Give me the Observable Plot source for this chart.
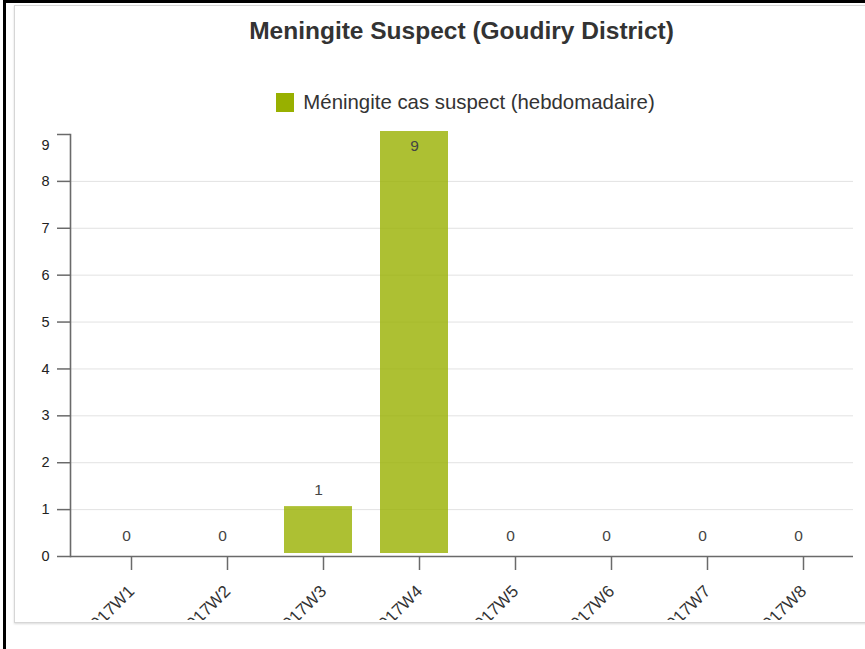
<!DOCTYPE html>
<html>
<head>
<meta charset="utf-8">
<script src="https://cdn.jsdelivr.net/npm/d3@7"></script>
<script src="https://cdn.jsdelivr.net/npm/@observablehq/plot@0.6"></script>
<style>
  html, body { margin: 0; padding: 0; background: #fff; width: 865px; height: 649px; overflow: hidden; font-family: "Liberation Sans", Arial, sans-serif; }
  #blackLeft { position: absolute; left: 3px; top: 0; width: 3px; height: 649px; background: #000; }
  #blackTop { position: absolute; left: 3px; top: 0; width: 862px; height: 3px; background: #000; }
  #panel { position: absolute; left: 14px; top: 5px; width: 870px; height: 616px; border: 1px solid #d6d6d6; box-shadow: 0 1px 2px rgba(0,0,0,0.15); background: #fff; }
  #title { position: absolute; left: 29px; top: 17px; width: 865px; text-align: center; font-size: 24.5px; font-weight: bold; color: #333; }
  #legend { position: absolute; left: 33px; top: 91px; width: 865px; display: flex; justify-content: center; align-items: center; font-size: 20.4px; color: #333; }
  #legend .sw { width: 18px; height: 19px; background: #98b000; margin-right: 9px; }
  #chart { position: absolute; left: 0; top: 120px; width: 865px; height: 501px; overflow: hidden; }
</style>
</head>
<body>
<div id="blackLeft"></div>
<div id="blackTop"></div>
<div id="panel"></div>
<div id="title">Meningite Suspect (Goudiry District)</div>
<div id="legend"><span class="sw"></span><span id="legText">Méningite cas suspect (hebdomadaire)</span></div>
<div id="chart"></div>
<script>
const weeks = ["2017W1", "2017W2", "2017W3", "2017W4", "2017W5", "2017W6", "2017W7", "2017W8"];
const cases = [0, 0, 1, 9, 0, 0, 0, 0];
const yTicks = [0, 1, 2, 3, 4, 5, 6, 7, 8, 9];
const seriesName = "Méningite cas suspect (hebdomadaire)";

const data = weeks.map((w, i) => ({week: w, cases: cases[i]}));
const maxV = d3.max(cases);
const yMax = d3.max(yTicks);

const plot = Plot.plot({
  width: 865,
  height: 500,
  marginLeft: 70,
  marginRight: 12,
  marginTop: 14,
  marginBottom: 64,
  style: {fontFamily: "Liberation Sans, Arial, sans-serif", fontSize: "14px", color: "#222", background: "transparent"},
  x: {domain: weeks, insetLeft: 8.5, insetRight: 6.5, paddingInner: 0.29, paddingOuter: 0.145, label: null},
  y: {domain: [0, yMax], label: null},
  marks: [
    Plot.ruleY(yTicks.filter(t => t > 0 && t < yMax), {stroke: "#e2e2e2", strokeWidth: 1}),
    Plot.barY(data, {x: "week", y: "cases", fill: "#98b000", fillOpacity: 0.8, dy: -3}),
    Plot.text(data.filter(d => d.cases < maxV), {x: "week", y: "cases", text: d => String(d.cases), dy: -20, fill: "#444", fontSize: 15.5}),
    Plot.text(data.filter(d => d.cases === maxV), {x: "week", y: "cases", text: d => String(d.cases), dy: 12, fill: "#444", fontSize: 15.5}),
    Plot.ruleY([0], {stroke: "#6a6a6a", strokeWidth: 1.6}),
    Plot.frame({anchor: "left", stroke: "#6a6a6a", strokeWidth: 1.6}),
    Plot.axisY(yTicks, {tickSize: 13, tickPadding: 8, stroke: "#6a6a6a", strokeWidth: 1.5, tickFormat: d => d === yMax ? "" : String(d), fontSize: 14.5, fill: "#222", label: null}),
    Plot.axisY([yMax], {tickSize: 0, tickPadding: 21, dy: 11, fontSize: 14.5, fill: "#222", label: null}),
    Plot.axisX({tickSize: 14, tickPadding: 18, tickRotate: -45, stroke: "#6a6a6a", strokeWidth: 1.5, fontSize: 17, fill: "#333", dx: 5, label: null})
  ]
});
document.getElementById("chart").appendChild(plot);
</script>
</body>
</html>
